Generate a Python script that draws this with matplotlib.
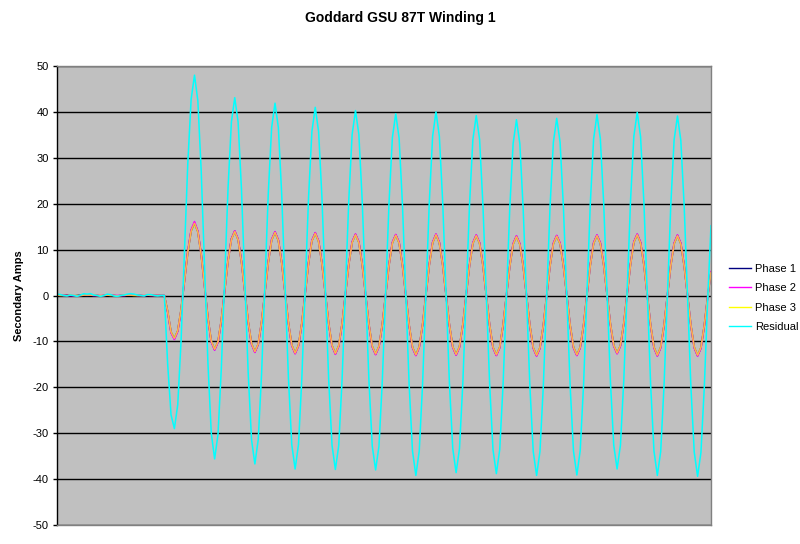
import matplotlib
matplotlib.use('Agg')
import matplotlib.pyplot as plt

plt.rcParams['font.family'] = ['Liberation Sans', 'DejaVu Sans']
plt.rcParams['axes.unicode_minus'] = False

# sample values (secondary amps)
residual = [0.3, 0.2, 0.0, -0.1, 0.1, 0.0, -0.2, 0.1, 0.4, 0.3, 0.4, 0.1, 0.0, -0.2, 0.0, 0.3, 0.2,
            -0.1, -0.2, 0.0, 0.1, 0.3, 0.4, 0.3, 0.1, 0.0, -0.1, 0.2, 0.2, 0.0, -0.1, 0.0, 0.0,
            -15.0, -26.0, -29.0,
            -23.8, -9.8, 9.5, 28.8, 42.8, 48.0,
            42.4, 27.1, 6.2, -14.7, -30.0, -35.6,
            -30.3, -15.9, 3.8, 23.4, 37.8, 43.1,
            37.8, 23.2, 3.2, -16.8, -31.4, -36.7,
            -31.4, -17.1, 2.6, 22.3, 36.6, 41.9,
            36.6, 22.0, 2.1, -17.9, -32.5, -37.8,
            -32.5, -18.1, 1.6, 21.3, 35.7, 41.0,
            35.7, 21.3, 1.6, -18.2, -32.6, -37.9,
            -32.7, -18.4, 1.2, 20.8, 35.1, 40.3,
            35.1, 20.7, 1.2, -18.4, -32.8, -38.0,
            -32.8, -18.6, 0.8, 20.2, 34.4, 39.6,
            34.3, 19.9, 0.2, -19.5, -33.9, -39.2,
            -33.9, -19.4, 0.4, 20.2, 34.7, 40.0,
            34.7, 20.4, 0.7, -19.0, -33.3, -38.6,
            -33.4, -19.2, 0.3, 19.8, 34.0, 39.2,
            34.0, 19.7, 0.2, -19.3, -33.6, -38.8,
            -33.6, -19.5, -0.3, 19.0, 33.1, 38.3,
            33.1, 18.9, -0.5, -19.8, -34.0, -39.2,
            -34.0, -19.8, -0.3, 19.2, 33.4, 38.6,
            33.4, 19.2, -0.3, -19.7, -33.9, -39.1,
            -33.8, -19.5, 0.2, 19.8, 34.1, 39.4,
            34.2, 20.1, 0.8, -18.5, -32.6, -37.8,
            -32.6, -18.4, 1.1, 20.5, 34.7, 39.9,
            34.6, 20.1, 0.4, -19.4, -33.9, -39.2,
            -34.0, -19.6, -0.1, 19.5, 33.9, 39.1,
            33.8, 19.5, -0.2, -19.8, -34.1, -39.4,
            -34.2, -20.0, -1.0, 15.2]

phase_1 = [0.1, 0.0, 0.0, 0.1, 0.0, -0.1, 0.0, 0.1, 0.1, 0.0, 0.1, 0.0, 0.0, -0.1, 0.0, 0.1, 0.0,
           0.0, -0.1, 0.0, 0.0, 0.1, 0.1, 0.1, 0.0, 0.0, -0.1, 0.0, 0.1, 0.0, 0.0, 0.0, 0.0,
           -3.5, -8.0, -9.4,
           -7.7, -3.1, 3.2, 9.5, 14.1, 15.8,
           13.9, 8.9, 2.0, -4.9, -10.0, -11.8,
           -10.1, -5.4, 1.1, 7.6, 12.3, 14.0,
           12.2, 7.4, 0.9, -5.7, -10.5, -12.3,
           -10.6, -5.8, 0.8, 7.3, 12.1, 13.8,
           12.0, 7.2, 0.6, -6.0, -10.8, -12.6,
           -10.9, -6.1, 0.5, 7.1, 11.9, 13.6,
           11.8, 7.0, 0.5, -6.1, -10.9, -12.7,
           -11.0, -6.2, 0.3, 6.8, 11.6, 13.3,
           11.6, 6.8, 0.3, -6.3, -11.1, -12.8,
           -11.1, -6.3, 0.2, 6.7, 11.5, 13.2,
           11.5, 6.6, 0.1, -6.5, -11.3, -13.0,
           -11.2, -6.4, 0.2, 6.7, 11.5, 13.3,
           11.5, 6.7, 0.2, -6.4, -11.2, -12.9,
           -11.2, -6.4, 0.1, 6.6, 11.4, 13.1,
           11.4, 6.6, 0.1, -6.5, -11.3, -13.0,
           -11.3, -6.5, -0.1, 6.4, 11.2, 12.9,
           11.2, 6.4, -0.1, -6.6, -11.4, -13.1,
           -11.4, -6.6, -0.1, 6.5, 11.3, 13.0,
           11.3, 6.5, 0.0, -6.5, -11.3, -13.0,
           -11.3, -6.5, 0.1, 6.6, 11.4, 13.1,
           11.4, 6.7, 0.3, -6.2, -10.9, -12.6,
           -10.9, -6.1, 0.4, 6.8, 11.6, 13.3,
           11.5, 6.7, 0.1, -6.5, -11.3, -13.1,
           -11.3, -6.5, 0.0, 6.5, 11.3, 13.1,
           11.3, 6.5, 0.0, -6.5, -11.3, -13.1,
           -11.4, -6.6, -0.3, 5.1]

phase_2 = [0.1, 0.1, 0.0, 0.0, 0.0, 0.0, -0.1, 0.0, 0.1, 0.1, 0.1, 0.0, 0.0, 0.0, 0.0, 0.1, 0.1,
           0.0, 0.0, 0.0, 0.0, 0.1, 0.1, 0.1, 0.0, 0.0, 0.0, 0.1, 0.0, 0.0, 0.0, 0.0, 0.0,
           -3.6, -8.1, -9.6,
           -7.8, -3.2, 3.2, 9.6, 14.3, 16.1,
           14.0, 8.9, 2.0, -5.0, -10.1, -11.9,
           -10.2, -5.4, 1.1, 7.6, 12.3, 14.1,
           12.3, 7.4, 0.9, -5.7, -10.6, -12.4,
           -10.6, -5.8, 0.8, 7.3, 12.2, 13.9,
           12.1, 7.2, 0.6, -6.0, -10.9, -12.7,
           -11.0, -6.1, 0.5, 7.1, 12.0, 13.7,
           11.9, 7.0, 0.5, -6.1, -11.0, -12.8,
           -11.1, -6.2, 0.3, 6.8, 11.7, 13.4,
           11.7, 6.8, 0.3, -6.3, -11.2, -12.9,
           -11.2, -6.3, 0.2, 6.7, 11.6, 13.3,
           11.6, 6.6, 0.1, -6.5, -11.4, -13.1,
           -11.3, -6.4, 0.2, 6.7, 11.6, 13.4,
           11.6, 6.7, 0.2, -6.4, -11.3, -13.0,
           -11.3, -6.4, 0.1, 6.6, 11.5, 13.2,
           11.5, 6.6, 0.1, -6.5, -11.4, -13.1,
           -11.4, -6.5, -0.1, 6.4, 11.3, 13.0,
           11.3, 6.4, -0.1, -6.6, -11.5, -13.2,
           -11.5, -6.6, -0.1, 6.5, 11.4, 13.1,
           11.4, 6.5, 0.0, -6.5, -11.4, -13.1,
           -11.4, -6.5, 0.1, 6.6, 11.5, 13.2,
           11.5, 6.7, 0.3, -6.2, -11.0, -12.7,
           -11.0, -6.1, 0.4, 6.8, 11.7, 13.4,
           11.6, 6.7, 0.1, -6.5, -11.4, -13.2,
           -11.4, -6.5, 0.0, 6.5, 11.4, 13.2,
           11.4, 6.5, 0.0, -6.5, -11.4, -13.2,
           -11.5, -6.6, -0.3, 5.2]

phase_3 = [0.1, 0.0, 0.0, 0.0, 0.1, 0.0, 0.0, 0.0, 0.1, 0.1, 0.1, 0.1, 0.0, 0.0, 0.0, 0.1, 0.0,
           0.0, -0.1, 0.0, 0.1, 0.1, 0.1, 0.0, 0.0, 0.0, 0.0, 0.1, 0.1, 0.0, 0.0, 0.0, 0.0,
           -3.4, -7.9, -9.3,
           -7.6, -3.0, 3.2, 9.4, 14.0, 15.7,
           13.8, 8.8, 2.0, -4.9, -9.9, -11.7,
           -10.0, -5.3, 1.1, 7.5, 12.2, 13.9,
           12.1, 7.3, 0.9, -5.6, -10.4, -12.2,
           -10.5, -5.7, 0.8, 7.2, 12.0, 13.7,
           11.9, 7.1, 0.6, -5.9, -10.7, -12.5,
           -10.8, -6.0, 0.5, 7.0, 11.8, 13.5,
           11.7, 6.9, 0.5, -6.0, -10.8, -12.6,
           -10.9, -6.1, 0.3, 6.7, 11.5, 13.2,
           11.5, 6.7, 0.3, -6.2, -11.0, -12.7,
           -11.0, -6.2, 0.2, 6.6, 11.4, 13.1,
           11.4, 6.5, 0.1, -6.4, -11.2, -12.9,
           -11.1, -6.3, 0.2, 6.6, 11.4, 13.2,
           11.4, 6.6, 0.2, -6.3, -11.1, -12.8,
           -11.1, -6.3, 0.1, 6.5, 11.3, 13.0,
           11.3, 6.5, 0.1, -6.4, -11.2, -12.9,
           -11.2, -6.4, -0.1, 6.3, 11.1, 12.8,
           11.1, 6.3, -0.1, -6.5, -11.3, -13.0,
           -11.3, -6.5, -0.1, 6.4, 11.2, 12.9,
           11.2, 6.4, 0.0, -6.4, -11.2, -12.9,
           -11.2, -6.4, 0.1, 6.5, 11.3, 13.0,
           11.3, 6.6, 0.3, -6.1, -10.8, -12.5,
           -10.8, -6.0, 0.4, 6.7, 11.5, 13.2,
           11.4, 6.6, 0.1, -6.4, -11.2, -13.0,
           -11.2, -6.4, 0.0, 6.4, 11.2, 13.0,
           11.2, 6.4, 0.0, -6.4, -11.2, -13.0,
           -11.3, -6.5, -0.3, 5.0]

series_names = ['Phase 1', 'Phase 2', 'Phase 3', 'Residual']
y_ticks = list(range(-50, 51, 10))

fig = plt.figure(figsize=(8, 5.44), dpi=100)
ax = fig.add_axes([57/800, 1 - 525/544, (711 - 57)/800, (525 - 66)/544])
ax.set_facecolor('#C0C0C0')

x = list(range(len(residual)))
ax.plot(x, phase_1, color='#000080', lw=1.2, label=series_names[0])
ax.plot(x, phase_2, color='#FF00FF', lw=1.2, label=series_names[1])
ax.plot(x, phase_3, color='#FFFF00', lw=1.2, alpha=0.7, label=series_names[2])
ax.plot(x, residual, color='#00FFFF', lw=1.1, label=series_names[3])

ax.set_xlim(0, len(residual) - 1)
ax.set_ylim(-50, 50)
ax.set_yticks(y_ticks)
ax.set_xticks([])
ax.yaxis.grid(True, color='black', lw=1.0)
ax.set_axisbelow(True)
ax.tick_params(axis='y', labelsize=8, length=3, width=1, color='black', pad=3)

for side in ['top', 'right', 'bottom']:
    ax.spines[side].set_color('#808080')
    ax.spines[side].set_linewidth(1)
ax.spines['left'].set_color('black')
ax.spines['left'].set_linewidth(1)

ax.set_ylabel('Secondary Amps', fontsize=8, fontweight='bold', labelpad=6)
fig.text(0.5, 1 - 18/544, 'Goddard GSU 87T Winding 1', ha='center', va='center',
         fontsize=10, fontweight='bold')

leg = ax.legend(loc='center left', bbox_to_anchor=(1.02, 0.495), frameon=False, fontsize=8,
                handlelength=2.0, handletextpad=0.35, labelspacing=0.85, borderaxespad=0)
for line in leg.get_lines():
    line.set_alpha(1.0)
    line.set_linewidth(1.0)

plt.savefig('out.png', dpi=100)
